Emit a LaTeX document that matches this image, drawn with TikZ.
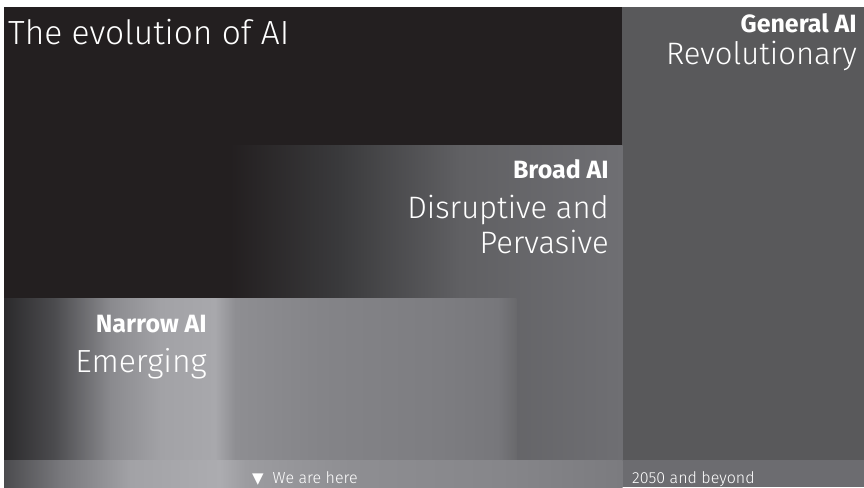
\documentclass[tikz,border=0pt]{standalone}
\usepackage{fontspec}
\setmainfont{Fira Sans}[UprightFont=* Light,BoldFont=* Bold]
\newfontfamily\symfont{DejaVu Sans}

% panel colours
\definecolor{ink}{HTML}{231F20}
\definecolor{gengray}{HTML}{59595B}
\definecolor{barright}{HTML}{6C6C70}
% broad AI ramp
\definecolor{b1}{HTML}{3A3A3C}
\definecolor{b2}{HTML}{606063}
\definecolor{b3}{HTML}{6F6F73}
% narrow AI ramp
\definecolor{n0}{HTML}{2B2A2C}
\definecolor{n1}{HTML}{4C4C4F}
\definecolor{n2}{HTML}{8A8A8E}
\definecolor{n3}{HTML}{A2A2A6}
\definecolor{n4}{HTML}{A8A8AC}
\definecolor{n5}{HTML}{8E8E92}
\definecolor{n6}{HTML}{848488}
\definecolor{n7}{HTML}{7D7D81}
\definecolor{n8}{HTML}{77777B}
\definecolor{n9}{HTML}{69696C}
% bottom bar ramp
\definecolor{m0}{HTML}{4B4B4E}
\definecolor{m1}{HTML}{78787C}
\definecolor{m2}{HTML}{A2A2A6}
\definecolor{m3}{HTML}{ACACB0}
\definecolor{m4}{HTML}{9C9CA0}
\definecolor{m5}{HTML}{8E8E92}
\definecolor{m6}{HTML}{86868A}
\definecolor{m7}{HTML}{7B7B7F}

\begin{document}
\begin{tikzpicture}[x=1pt,y=-1pt,
  head/.style={font=\bfseries\fontsize{25}{28}\selectfont,text=white,inner sep=0pt},
  big/.style={font=\fontsize{31}{36}\selectfont,text=white,inner sep=0pt},
  small/.style={font=\fontsize{16}{18}\selectfont,text=white,inner sep=0pt}]
  \useasboundingbox (0,0) rectangle (864,487);
  \fill[white] (0,0) rectangle (864,487);

  % background blocks
  \fill[ink] (4,7) rectangle (622,460);
  \fill[gengray] (622,7) rectangle (864,460);
  \fill[barright] (622,460) rectangle (864,487);

  % broad AI
  \foreach \xa/\xb/\ca/\cb in {230/340/ink/b1,340/460/b1/b2,460/622/b2/b3}
    \shade[left color=\ca,right color=\cb] (\xa,145) rectangle (\xb+0.5,460);

  % narrow AI
  \foreach \xa/\xb/\ca/\cb in {4/55/n0/n1,55/110/n1/n2,110/160/n2/n3,160/215/n3/n4,
      215/235/n4/n5,235/320/n5/n6,320/440/n6/n7,440/498/n7/n8,498/516/n8/n9}
    \shade[left color=\ca,right color=\cb] (\xa,298) rectangle (\xb+0.5,460);

  % time line
  \foreach \xa/\xb/\ca/\cb in {4/60/m0/m1,60/130/m1/m2,130/220/m2/m3,220/245/m3/m4,
      245/350/m4/m5,350/500/m5/m6,500/622/m6/m7}
    \shade[left color=\ca,right color=\cb] (\xa,460) rectangle (\xb+0.5,487);

  % labels
  \node[big,anchor=base west,font=\fontsize{33.5}{38}\selectfont] (title) at (8,45) {The evolution of AI};
  \node[head,anchor=base east] (general) at (857,33) {General AI};
  \node[big,anchor=base east] (revol) at (857,65) {Revolutionary};
  \node[head,anchor=base east] (broad) at (609,178) {Broad AI};
  \node[big,anchor=base east] (disrupt) at (609,218) {Disruptive and};
  \node[big,anchor=base east] (pervasive) at (609,253) {Pervasive};
  \node[head,anchor=base east] (narrow) at (207,332) {Narrow AI};
  \node[big,anchor=base east,font=\fontsize{32}{36}\selectfont] (emerging) at (207,372) {Emerging};
  \node[small,anchor=base west] (here) at (252,483)
    {{\symfont\fontsize{15}{15}\selectfont ▼}\hspace{9pt}We are here};
  \node[small,anchor=base west] (beyond) at (632,483) {2050 and beyond};
\end{tikzpicture}
\end{document}
